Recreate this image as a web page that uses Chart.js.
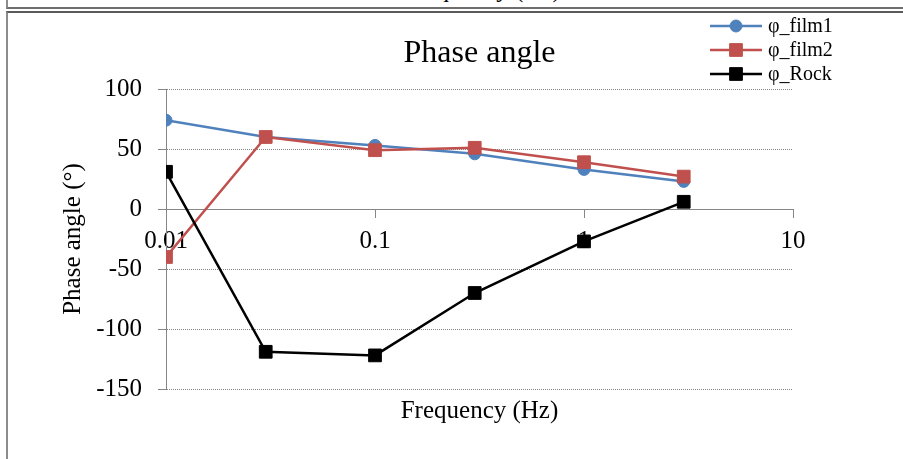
<!DOCTYPE html>
<html>
<head>
<meta charset="utf-8">
<title>Phase angle</title>
<script src="https://cdn.jsdelivr.net/npm/chart.js@4.4.0/dist/chart.umd.min.js"></script>
<style>
  html, body { margin: 0; padding: 0; background: #fff; }
  body {
    width: 903px; height: 459px; position: relative; overflow: hidden;
    font-family: "Liberation Serif", "Times New Roman", serif;
  }
  /* bottom edge of the previous chart box, cut off at the top */
  #strip {
    position: absolute; left: 6px; top: -4px; width: 910px; height: 11px;
    border-left: 2px solid #8c8c8c; border-bottom: 2px solid #6e6e6e;
    overflow: hidden;
  }
  #strip span {
    position: absolute; left: 374px; top: -20px; width: 200px;
    text-align: center; font-size: 25px; line-height: 25px; color: #000;
  }
  #frame {
    position: absolute; left: 6px; top: 11px; width: 910px; height: 460px;
    border-left: 2px solid #8c8c8c; border-top: 2px solid #5a5a5a;
  }
  #wrap { position: absolute; left: 0; top: 0; width: 903px; height: 459px; }
</style>
</head>
<body>
<div id="strip"><span>Frequency (Hz)</span></div>
<div id="frame"></div>
<div id="wrap"><canvas id="phaseChart" width="903" height="459"></canvas></div>

<script>
// =======================
// Data
// =======================
const frequencies = [0.01, 0.03, 0.1, 0.3, 1, 3];
const phiFilm1 = [74, 60, 53, 46, 33, 23];
const phiFilm2 = [-40, 60, 49, 51, 39, 27];
const phiRock = [31, -119, -122, -70, -27, 6];

const xTickValues = [0.01, 0.1, 1, 10];
const yTickValues = [100, 50, 0, -50, -100, -150];

const seriesNames = ['φ_film1', 'φ_film2', 'φ_Rock'];

// =======================
// Helpers
// =======================
function toPoints(values) {
  return frequencies.map((f, i) => ({ x: f, y: values[i] }));
}

const AXIS_GREY = '#868686';
const GRID_GREY = '#858585';

Chart.defaults.font.family = "'Liberation Serif', 'Times New Roman', serif";
Chart.defaults.color = '#000';

// legend drawn in the top right corner, over the title row
const cornerLegend = {
  id: 'cornerLegend',
  afterDraw(chart) {
    const ctx = chart.ctx;
    const lineLeft = 710, lineRight = 762, textLeft = 768;
    const firstRow = 26, rowStep = 24;
    ctx.save();
    chart.data.datasets.forEach((ds, i) => {
      const y = firstRow + i * rowStep;
      ctx.strokeStyle = ds.borderColor;
      ctx.lineWidth = ds.borderWidth;
      ctx.beginPath();
      ctx.moveTo(lineLeft, y);
      ctx.lineTo(lineRight, y);
      ctx.stroke();
      ctx.fillStyle = ds.backgroundColor;
      ctx.strokeStyle = ds.borderColor;
      ctx.lineWidth = 1;
      Chart.helpers.drawPoint(ctx, {
        pointStyle: ds.pointStyle, radius: ds.pointRadius, borderWidth: 1, rotation: 0
      }, (lineLeft + lineRight) / 2, y);
      ctx.fillStyle = '#000';
      ctx.font = "20px 'Liberation Serif', 'Times New Roman', serif";
      ctx.textBaseline = 'middle';
      ctx.textAlign = 'left';
      ctx.fillText(ds.label, textLeft, y + 1);
    });
    ctx.restore();
  }
};

// =======================
// Chart
// =======================
new Chart(document.getElementById('phaseChart'), {
  type: 'line',
  data: {
    datasets: [
      {
        label: seriesNames[0],
        data: toPoints(phiFilm1),
        borderColor: '#4F81BD',
        backgroundColor: '#4F81BD',
        borderWidth: 2.5,
        pointStyle: 'circle',
        pointRadius: 6,
        pointBorderWidth: 1,
        order: 3
      },
      {
        label: seriesNames[1],
        data: toPoints(phiFilm2),
        borderColor: '#C0504D',
        backgroundColor: '#C0504D',
        borderWidth: 2.5,
        pointStyle: 'rect',
        pointRadius: 9,
        pointBorderWidth: 1,
        order: 2
      },
      {
        label: seriesNames[2],
        data: toPoints(phiRock),
        borderColor: '#000000',
        backgroundColor: '#000000',
        borderWidth: 2.5,
        pointStyle: 'rect',
        pointRadius: 9,
        pointBorderWidth: 1,
        order: 1
      }
    ]
  },
  options: {
    responsive: false,
    animation: false,
    events: [],
    layout: { padding: { top: 12, left: 54, right: 110, bottom: 0 } },
    plugins: {
      legend: { display: false },
      tooltip: { enabled: false },
      title: {
        display: true,
        fullSize: false,
        text: 'Phase angle',
        color: '#000',
        font: { size: 32, weight: 'normal' },
        padding: { top: 22, bottom: 16.6 }
      }
    },
    scales: {
      x: {
        type: 'logarithmic',
        min: 0.01,
        max: 10,
        position: { y: 0 },
        afterBuildTicks: s => { s.ticks = xTickValues.map(v => ({ value: v })); },
        afterFit: s => { s.height = 0; },
        ticks: {
          autoSkip: false,
          maxRotation: 0,
          padding: 9,
          color: '#000',
          font: { size: 25 },
          callback: v => String(v)
        },
        grid: { drawOnChartArea: false, drawTicks: true, tickLength: 8, color: AXIS_GREY },
        border: { display: true, color: AXIS_GREY, width: 1 }
      },
      x2: {
        type: 'linear',
        position: 'bottom',
        afterFit: s => { s.height = 70; },
        ticks: { display: false },
        grid: { display: false, drawTicks: false },
        border: { display: false },
        title: {
          display: true,
          text: 'Frequency (Hz)',
          color: '#000',
          font: { size: 25 },
          padding: { top: 0, bottom: 33 }
        }
      },
      y: {
        min: -150,
        max: 100,
        afterBuildTicks: s => { s.ticks = yTickValues.map(v => ({ value: v })); },
        afterFit: s => { s.width = 112; },
        ticks: { padding: 16, color: '#000', font: { size: 25 } },
        grid: {
          color: c => (c.tick && c.tick.value === 0) ? 'rgba(0,0,0,0)' : GRID_GREY,
          tickColor: AXIS_GREY,
          tickLength: 8,
          lineWidth: 1
        },
        border: { display: true, color: AXIS_GREY, width: 1, dash: [1, 1] },
        title: {
          display: true,
          text: 'Phase angle (°)',
          color: '#000',
          font: { size: 25 },
          padding: { top: 4, bottom: 4 }
        }
      }
    }
  },
  plugins: [cornerLegend]
});
</script>
</body>
</html>
